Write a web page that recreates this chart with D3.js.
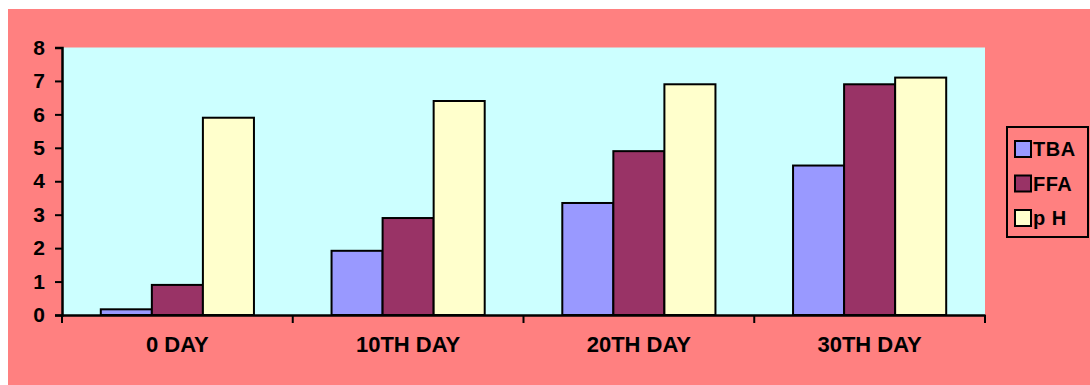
<!DOCTYPE html>
<html>
<head>
<meta charset="utf-8">
<script src="https://cdn.jsdelivr.net/npm/d3@7"></script>
<style>
  html, body { margin: 0; padding: 0; background: #ffffff; }
  svg { display: block; }
  text { font-family: "Liberation Sans", Arial, sans-serif; font-weight: bold; fill: #000; }
</style>
</head>
<body>
<svg id="chart" width="1090" height="385"></svg>
<script>
// Storage days and measured series
const categories = ["0 DAY", "10TH DAY", "20TH DAY", "30TH DAY"];
const seriesNames = ["TBA", "FFA", "p H"];
const tbaValues = [0.17, 1.92, 3.35, 4.47];
const ffaValues = [0.9, 2.9, 4.9, 6.9];
const phValues = [5.9, 6.4, 6.9, 7.1];
const yTicks = [0, 1, 2, 3, 4, 5, 6, 7, 8];
const seriesColors = ["#9999FF", "#993366", "#FFFFCC"];

const seriesValues = [tbaValues, ffaValues, phValues];
const rows = categories.map((c, i) => ({
  category: c,
  values: seriesNames.map((s, j) => ({ series: s, value: seriesValues[j][i] }))
}));

const svg = d3.select("#chart");

// Chart frame
svg.append("rect")
  .attr("x", 8).attr("y", 9)
  .attr("width", 1082).attr("height", 376)
  .attr("fill", "#FF8080");

const plot = { left: 62, right: 985, top: 47.5, bottom: 315 };

const x = d3.scaleBand()
  .domain(categories)
  .range([plot.left, plot.right])
  .paddingInner(0).paddingOuter(0);

const xInner = d3.scaleBand()
  .domain(seriesNames)
  .range([0, x.bandwidth()])
  .paddingInner(0).paddingOuter(0.76);

const y = d3.scaleLinear()
  .domain([0, 8])
  .range([plot.bottom, plot.top]);

const color = d3.scaleOrdinal().domain(seriesNames).range(seriesColors);

// Plot area background
svg.append("rect")
  .attr("x", plot.left).attr("y", plot.top)
  .attr("width", plot.right - plot.left)
  .attr("height", plot.bottom - plot.top)
  .attr("fill", "#CCFFFF");

// Bars
const groups = svg.append("g").selectAll("g")
  .data(rows)
  .join("g")
  .attr("transform", d => `translate(${x(d.category)},0)`);

groups.selectAll("rect")
  .data(d => d.values)
  .join("rect")
  .attr("x", d => xInner(d.series))
  .attr("y", d => y(d.value))
  .attr("width", xInner.bandwidth())
  .attr("height", d => y(0) - y(d.value))
  .attr("fill", d => color(d.series))
  .attr("stroke", "#000")
  .attr("stroke-width", 2);

// Y axis
const yAxis = svg.append("g")
  .attr("transform", `translate(${plot.left},0)`)
  .call(d3.axisLeft(y).tickValues(yTicks).tickFormat(d3.format("d")).tickSize(7).tickPadding(10));
yAxis.select(".domain").attr("stroke", "#000").attr("stroke-width", 2.5);
yAxis.selectAll(".tick line").attr("stroke", "#000").attr("stroke-width", 2);
yAxis.selectAll(".tick text")
  .style("font-size", "21px")
  .style("font-family", "'Liberation Sans', Arial, sans-serif")
  .style("font-weight", "bold")
  .attr("fill", "#000");

// X axis: line, boundary ticks, centred labels
const xAxis = svg.append("g")
  .attr("transform", `translate(0,${plot.bottom})`)
  .call(d3.axisBottom(x).tickSize(0).tickPadding(21));
xAxis.select(".domain").attr("stroke", "#000").attr("stroke-width", 2.5);
xAxis.selectAll(".tick text")
  .style("font-size", "22px")
  .style("font-family", "'Liberation Sans', Arial, sans-serif")
  .style("font-weight", "bold")
  .attr("fill", "#000");

const boundaries = categories.map(c => x(c)).concat([x.range()[1]]);
xAxis.selectAll(".boundary")
  .data(boundaries)
  .join("line")
  .attr("class", "boundary")
  .attr("x1", d => d).attr("x2", d => d)
  .attr("y1", 0).attr("y2", 8)
  .attr("stroke", "#000").attr("stroke-width", 2);

// Legend
const legend = svg.append("g");
legend.append("rect")
  .attr("x", 1007).attr("y", 127)
  .attr("width", 81).attr("height", 110)
  .attr("fill", "none")
  .attr("stroke", "#000").attr("stroke-width", 2);

const legendRow = d3.scalePoint().domain(seriesNames).range([149, 218]);

const items = legend.selectAll(".item")
  .data(seriesNames)
  .join("g")
  .attr("class", "item")
  .attr("transform", d => `translate(1015,${legendRow(d)})`);

items.append("rect")
  .attr("x", 0).attr("y", -8)
  .attr("width", 16).attr("height", 16)
  .attr("fill", d => color(d))
  .attr("stroke", "#000").attr("stroke-width", 2);

items.append("text")
  .attr("x", 18).attr("y", 7)
  .style("font-size", "20px")
  .style("letter-spacing", "0.5px")
  .text(d => d);
</script>
</body>
</html>
